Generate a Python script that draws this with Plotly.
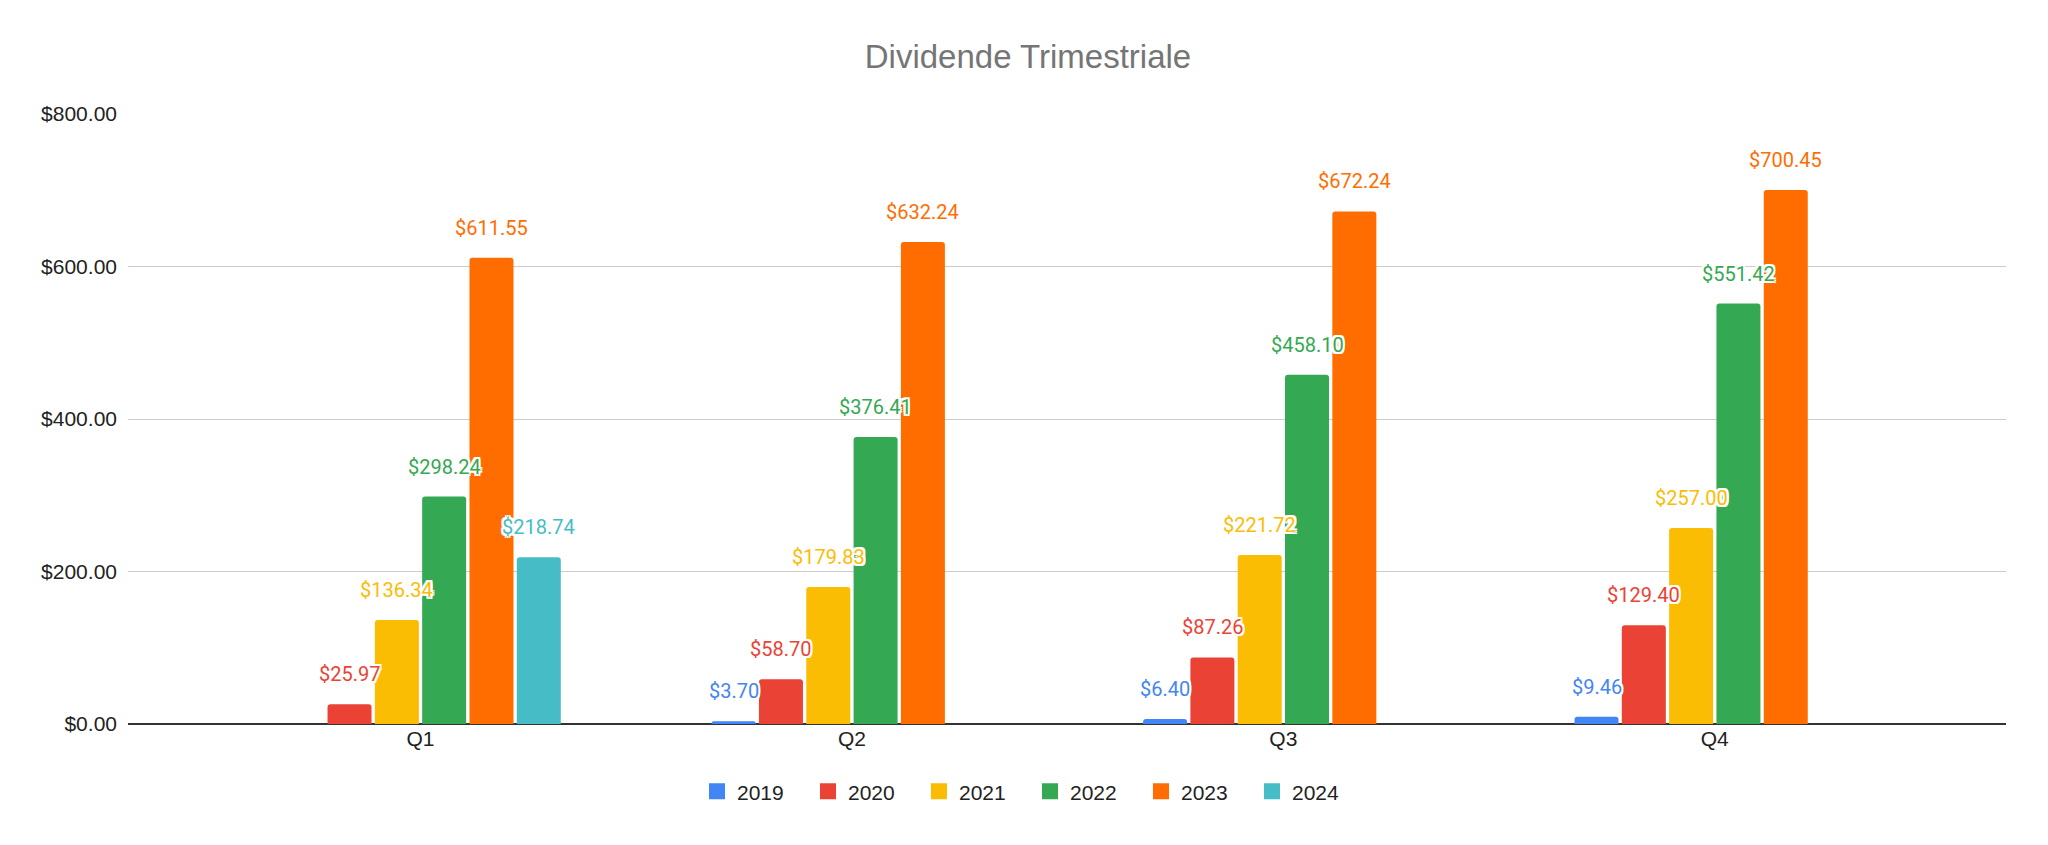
import plotly.graph_objects as go

# Data
quarters = ['Q1', 'Q2', 'Q3', 'Q4']
years = ['2019', '2020', '2021', '2022', '2023', '2024']
div_2019 = [None, 3.70, 6.40, 9.46]
div_2020 = [25.97, 58.70, 87.26, 129.40]
div_2021 = [136.34, 179.83, 221.72, 257.00]
div_2022 = [298.24, 376.41, 458.10, 551.42]
div_2023 = [611.55, 632.24, 672.24, 700.45]
div_2024 = [218.74, None, None, None]
y_ticks = [0, 200, 400, 600, 800]

series = [div_2019, div_2020, div_2021, div_2022, div_2023, div_2024]
colors = ['#4285F4', '#EA4335', '#FBBC04', '#34A853', '#FF6D01', '#46BDC6']

axis_font = 'Liberation Sans, Arial, sans-serif'
label_font = 'Roboto, Arial, sans-serif'
bargap = 0.342
white_outline = ('-2px -2px 0 #fff, 2px -2px 0 #fff, -2px 2px 0 #fff, 2px 2px 0 #fff, '
                 '0 2px 0 #fff, 0 -2px 0 #fff, 2px 0 0 #fff, -2px 0 0 #fff')

# page body has an 8px margin, so the figure is a bit smaller than the window
W, H = 2040, 837
ml, mr = 120, 42

fig = go.Figure()

for year, vals, col in zip(years, series, colors):
    fig.add_trace(go.Bar(
        x=quarters, y=vals, name=year,
        marker=dict(color=col, line=dict(width=0)),
        showlegend=False, hoverinfo='x+y+name',
    ))
    # legend entry with a bigger square swatch
    fig.add_trace(go.Scatter(
        x=[None], y=[None], name=year, mode='markers',
        marker=dict(symbol='square', size=20, color=col),
        showlegend=True,
    ))

# value labels above the bars (annotations so they sit on top of neighbouring bars)
n = len(years)
slot = (1 - bargap) / n
for i, (vals, col) in enumerate(zip(series, colors)):
    for q, v in enumerate(vals):
        if v is None:
            continue
        fig.add_annotation(
            x=q + (i - (n - 1) / 2) * slot, y=v,
            xref='x', yref='y',
            text='${:,.2f}'.format(v), showarrow=False,
            yshift=30,
            font=dict(family=label_font, size=20, color=col, shadow=white_outline),
        )

# legend centred on the whole figure, not on the plot area
legend_x = (W / 2 + 2 - ml) / (W - ml - mr)

fig.update_layout(
    width=W, height=H,
    paper_bgcolor='white', plot_bgcolor='white',
    margin=dict(l=ml, r=mr, t=106, b=121),
    barmode='group', bargap=bargap, bargroupgap=0.07, barcornerradius=3,
    title=dict(text='Dividende Trimestriale', x=0.5, xanchor='center',
               y=1 - 48 / H, yanchor='middle',
               font=dict(family=axis_font, size=33, color='#757575')),
    font=dict(family=axis_font, size=21, color='#222222'),
    legend=dict(orientation='h', x=legend_x, xanchor='center',
                y=-0.111, yanchor='middle',
                font=dict(family=axis_font, size=21, color='#222222'),
                entrywidth=66, entrywidthmode='pixels'),
    showlegend=True,
)

fig.update_xaxes(
    type='category', range=[-0.678, 3.675],
    showgrid=False, showline=False, ticks='',
    tickfont=dict(family=axis_font, size=21, color='#222222'),
)
fig.update_yaxes(
    range=[0, 800], tickvals=y_ticks, tickformat='$,.2f',
    showgrid=True, gridcolor='#cccccc', gridwidth=1,
    zeroline=True, zerolinecolor='#333333', zerolinewidth=2,
    showline=False, ticks='', ticklabelstandoff=10,
    tickfont=dict(family=axis_font, size=21, color='#222222'),
)

fig.write_html("out.html")
